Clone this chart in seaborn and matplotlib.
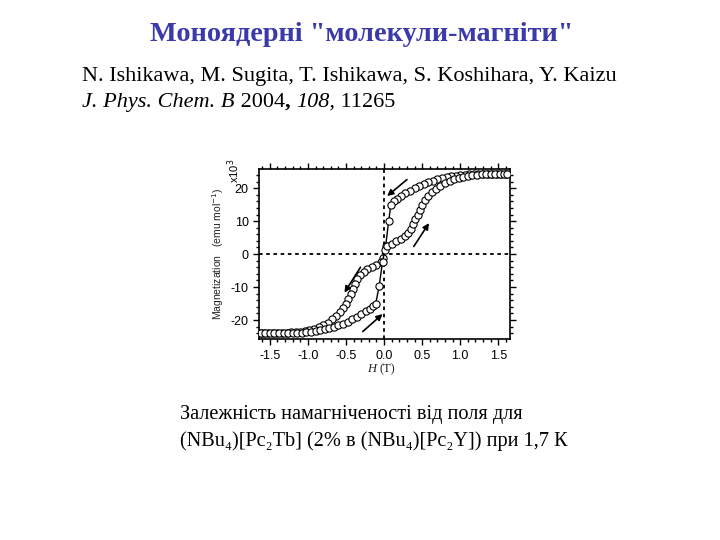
import matplotlib
matplotlib.use("Agg")
import matplotlib.pyplot as plt
import seaborn as sns
import numpy as np
from matplotlib.ticker import MultipleLocator

# ---- data, M in units of 10^3 emu/mol ----
h_down = [1.60, 1.54, 1.48, 1.42, 1.36, 1.30, 1.24, 1.18, 1.12, 1.06, 1.00, 0.94,
          0.88, 0.82, 0.76, 0.70, 0.64, 0.58, 0.52, 0.46, 0.40, 0.34, 0.28, 0.22,
          0.17, 0.13, 0.09, 0.06, 0.02, -0.01, -0.04, -0.10, -0.16, -0.22, -0.27,
          -0.31, -0.35, -0.38, -0.41, -0.44, -0.47, -0.50, -0.54, -0.58, -0.63,
          -0.68, -0.74, -0.80, -0.86, -0.92, -0.98, -1.04, -1.10, -1.16, -1.22,
          -1.28, -1.34, -1.40, -1.46, -1.52, -1.58, -1.62]
m_down = [24.2, 24.2, 24.3, 24.3, 24.3, 24.3, 24.3, 24.3, 24.2, 24.1, 24.0, 23.8,
          23.6, 23.3, 23.0, 22.7, 22.3, 21.9, 21.3, 20.7, 20.0, 19.2, 18.4, 17.6,
          16.8, 16.0, 15.0, 10.0, 2.3, -1.2, -2.5, -3.2, -3.9, -4.6, -5.4,
          -6.3, -7.5, -9.0, -10.5, -12.0, -13.5, -15.0, -16.4, -17.6, -18.8,
          -19.8, -20.8, -21.6, -22.2, -22.7, -23.0, -23.3, -23.5, -23.6, -23.7,
          -23.8, -23.9, -23.9, -24.0, -24.0, -23.9, -23.9]

h_up = [-1.62, -1.56, -1.50, -1.44, -1.38, -1.32, -1.26, -1.20, -1.14, -1.08,
        -1.02, -0.96, -0.90, -0.84, -0.78, -0.72, -0.66, -0.60, -0.54, -0.48,
        -0.42, -0.36, -0.30, -0.24, -0.19, -0.15, -0.11, -0.065, -0.02, 0.01,
        0.04, 0.10, 0.16, 0.22, 0.27, 0.31, 0.35, 0.38, 0.41, 0.44, 0.47, 0.50,
        0.54, 0.58, 0.63, 0.68, 0.74, 0.80, 0.86, 0.92, 0.98, 1.04, 1.10, 1.16,
        1.22, 1.28, 1.34, 1.40, 1.46, 1.52, 1.58, 1.62]
m_up = [-23.9, -24.0, -24.0, -24.0, -24.0, -24.0, -24.0, -23.9, -23.9, -23.8,
        -23.7, -23.5, -23.3, -23.1, -22.8, -22.5, -22.1, -21.6, -21.1, -20.5,
        -19.8, -19.0, -18.2, -17.4, -16.6, -15.8, -15.0, -9.8, -2.3, 1.2,
        2.5, 3.2, 3.9, 4.6, 5.4, 6.3, 7.5, 9.0, 10.5, 12.0, 13.5, 15.0,
        16.4, 17.6, 18.8, 19.8, 20.8, 21.6, 22.2, 22.7, 23.1, 23.5, 23.8, 24.0,
        24.1, 24.2, 24.2, 24.2, 24.2, 24.2, 24.2, 24.2]

x_ticks = [-1.5, -1.0, -0.5, 0.0, 0.5, 1.0, 1.5]
y_ticks = [-20, -10, 0, 10, 20]

# arrows: (start H, start M) -> (end H, end M)
arrows = [((0.30, 22.6), (0.04, 17.6)),
          ((0.39, 2.3), (0.59, 9.4)),
          ((-0.31, -4.0), (-0.52, -11.7)),
          ((-0.28, -23.5), (-0.02, -18.2))]

title = 'Моноядерні "молекули-магніти"'
authors = "N. Ishikawa, M. Sugita, T. Ishikawa, S. Koshihara, Y. Kaizu"
caption1 = "Залежність намагніченості від поля для"
caption2 = "(NBu₄)[Pc₂Tb] (2% в (NBu₄)[Pc₂Y]) при 1,7 К"

sns.set_theme(style="ticks")
plt.rcParams['font.family'] = ['Liberation Sans', 'DejaVu Sans']
plt.rcParams['text.color'] = 'black'

fig = plt.figure(figsize=(7.2, 5.4), dpi=100)
fig.patch.set_facecolor("white")
ax = fig.add_axes([0.360, 0.372, 0.349, 0.315])

for hx, my in ((h_down, m_down), (h_up, m_up)):
    sns.lineplot(x=hx, y=my, sort=False, ax=ax, color="black", lw=1.0,
                 marker="o", markersize=5.2, markerfacecolor="white",
                 markeredgecolor="black", markeredgewidth=0.8, zorder=3)

ax.axhline(0, color="black", ls=(0, (2, 2)), lw=1.3, zorder=1)
ax.axvline(0, color="black", ls=(0, (2, 2)), lw=1.3, zorder=1)

for (x0, y0), (x1, y1) in arrows:
    ax.annotate("", xy=(x1, y1), xytext=(x0, y0),
                arrowprops=dict(arrowstyle="-|>", color="black", lw=1.2,
                                mutation_scale=9, shrinkA=0, shrinkB=0))

ax.set_xlim(-1.64, 1.66)
ax.set_ylim(-25.8, 25.8)
ax.set_xticks(x_ticks)
ax.set_xticklabels([f"{v:.1f}" for v in x_ticks])
ax.set_yticks(y_ticks)
ax.set_yticklabels([str(v) for v in y_ticks])
ax.xaxis.set_minor_locator(MultipleLocator(0.1))
ax.yaxis.set_minor_locator(MultipleLocator(2))
ax.tick_params(which="both", direction="out", top=True, right=True,
               labelsize=9, colors="black", width=1.0)
ax.tick_params(which="major", length=4.5, pad=3)
ax.tick_params(which="minor", length=2.5)
for s in ax.spines.values():
    s.set_color("black")
    s.set_linewidth(1.2)
ax.set_xlabel("")
ax.set_ylabel("")

fig.text(0.5225, 0.3167, "H", fontsize=9, family="Liberation Serif",
         ha="right", va="center", style="italic", color="#222222")
fig.text(0.5275, 0.3167, "(T)", fontsize=9, family="Liberation Serif",
         ha="left", va="center", color="#222222")
fig.text(0.3025, 0.53, "Magnetization   (emu mol$^{-1}$)", fontsize=7.5,
         rotation=90, ha="center", va="center", color="#222222")
fig.text(0.325, 0.683, "x10$^3$", fontsize=8, rotation=90,
         ha="center", va="center", color="black")

fig.text(0.503, 0.936, title, fontsize=20.3, fontweight="bold",
         family="Liberation Serif", color="#3a3aaa", ha="center", va="center")
fig.text(0.114, 0.859, authors, fontsize=16, family="Liberation Serif",
         ha="left", va="center", color="black")

# second reference line with mixed styles
pieces = [("J. Phys. Chem. B", "italic", "normal"),
          (" 2004", "normal", "normal"),
          (",", "normal", "bold"),
          (" ", "normal", "normal"),
          ("108,", "italic", "normal"),
          (" 11265", "normal", "normal")]
fig.canvas.draw()
renderer = fig.canvas.get_renderer()
xpos = 0.114
for txt, st, wt in pieces:
    t = fig.text(xpos, 0.811, txt, fontsize=16, family="Liberation Serif",
                 style=st, fontweight=wt, ha="left", va="center", color="black")
    bb = t.get_window_extent(renderer=renderer)
    xpos += bb.width / fig.bbox.width

fig.text(0.25, 0.232, caption1, fontsize=14.6, family=["Liberation Serif", "DejaVu Serif"],
         ha="left", va="center", color="black")
fig.text(0.25, 0.184, caption2, fontsize=14.6, family=["Liberation Serif", "DejaVu Serif"],
         ha="left", va="center", color="black")

fig.savefig("out.png", dpi=100, facecolor="white")
